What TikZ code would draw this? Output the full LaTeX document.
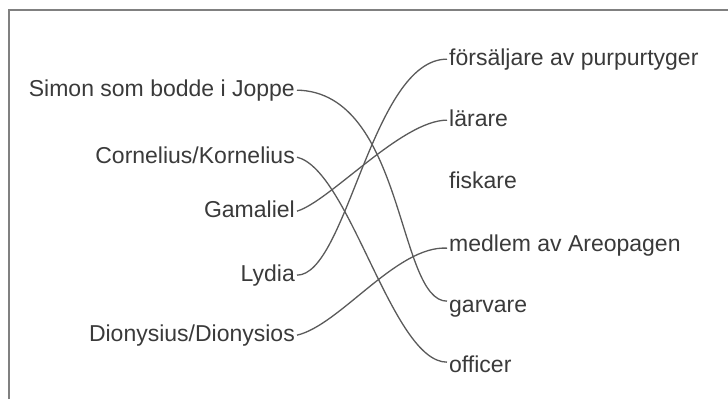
\documentclass[tikz,border=0pt]{standalone}
\usepackage{fontspec}
\setmainfont{Liberation Sans}
\usepackage{xcolor}
\definecolor{inkgray}{HTML}{3A3A3A}
\definecolor{linegray}{HTML}{5A5A5A}
\definecolor{framegray}{HTML}{808080}

\begin{document}
\begin{tikzpicture}[x=1pt,y=-1pt,
    every node/.style={font=\fontsize{23}{27}\selectfont, text=inkgray,
      inner xsep=2pt, inner ysep=0pt, text height=16.5pt, text depth=4.8pt},
    person/.style={anchor=base east},
    trade/.style={anchor=base west},
    match/.style={draw=linegray, line width=1.3pt}]
            \useasboundingbox (0,0) rectangle (728,399);
            \draw[framegray, line width=2.2pt] (9,399) -- (9,10) -- (728,10);
            \node[person] (simon) at (297,96) {Simon som bodde i Joppe};
            \node[person] (cornelius) at (297,163) {Cornelius/Kornelius};
            \node[person] (gamaliel) at (297,217) {Gamaliel};
            \node[person] (lydia) at (297,281) {Lydia};
            \node[person] (dionysius) at (297,341) {Dionysius/Dionysios};
            \node[trade] (purpur) at (447,65) {försäljare av purpurtyger};
            \node[trade] (larare) at (447,126) {lärare};
            \node[trade] (fiskare) at (447,188) {fiskare};
            \node[trade] (medlem) at (447,251) {medlem av Areopagen};
            \node[trade] (garvare) at (447,312) {garvare};
            \node[trade] (officer) at (447,372) {officer};
            \draw[match] (simon.east) .. controls +(108,2) and +(-50,0) .. ([yshift=5pt]garvare.west);
            \draw[match] (cornelius.east) .. controls +(53,13) and +(-55,0) .. ([yshift=4pt]officer.west);
            \draw[match] (gamaliel.east) .. controls +(33,-10) and +(-45,0) .. (larare.west);
            \draw[match] (lydia.east) .. controls +(50,0) and +(-75,0) .. (purpur.west);
            \draw[match] (dionysius.east) .. controls +(43,-10) and +(-50,-3) .. ([yshift=-3pt]medlem.west);
        \end{tikzpicture}
\end{document}
